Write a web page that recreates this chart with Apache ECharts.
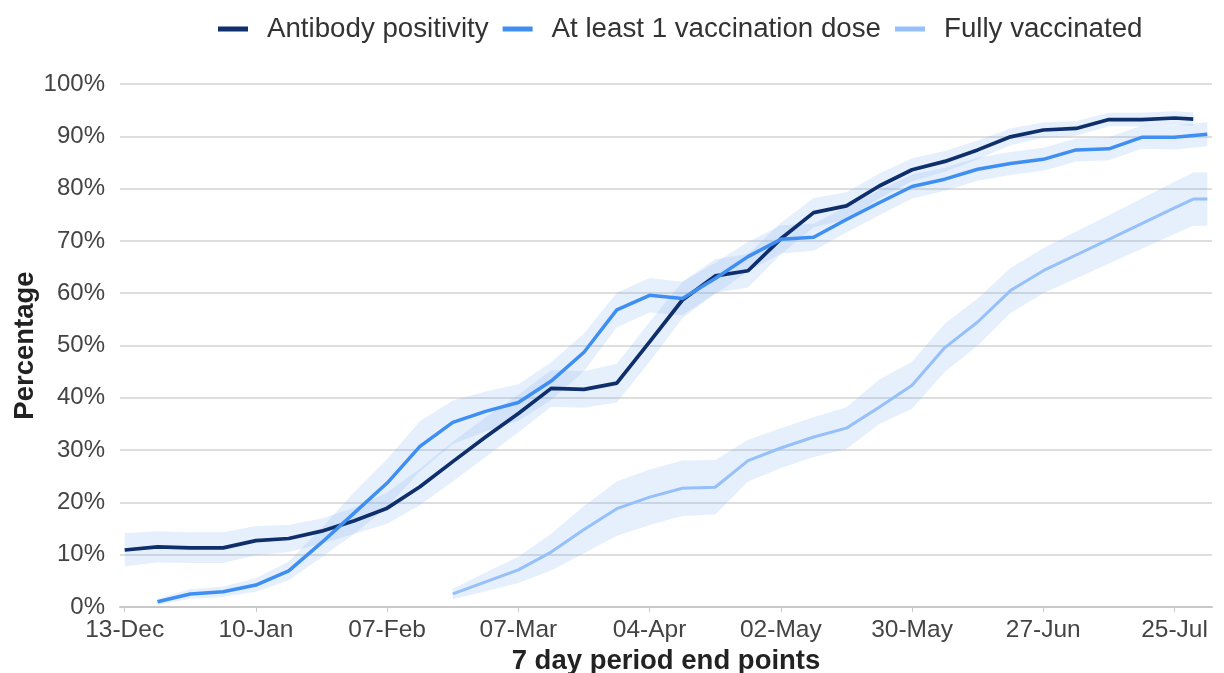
<!DOCTYPE html>
<html>
<head>
<meta charset="utf-8">
<title>Antibody positivity and vaccination</title>
<script src="https://cdn.jsdelivr.net/npm/echarts@6/dist/echarts.min.js"></script>
<style>
  html, body { margin: 0; padding: 0; background: #fff; }
  #chart { width: 1224px; height: 673px; }
</style>
</head>
<body>
<div id="chart"></div>
<script>
// x values are days after 13-Dec (7 day period end points)
var tickLabels = ['13-Dec', '10-Jan', '07-Feb', '07-Mar', '04-Apr', '02-May', '30-May', '27-Jun', '25-Jul'];
var tickDays = [0, 28, 56, 84, 112, 140, 168, 196, 224];

// Antibody positivity
var antibodyDays = [0, 7, 14, 21, 28, 35, 42, 49, 56, 63, 70, 77, 84, 91, 98, 105, 112, 119, 126, 133, 140, 147, 154, 161, 168, 175, 182, 189, 196, 203, 210, 217, 224, 228];
var antibodyVal = [10.9, 11.5, 11.3, 11.3, 12.7, 13.1, 14.5, 16.5, 18.9, 23.0, 27.8, 32.5, 37.0, 41.8, 41.6, 42.8, 50.7, 58.7, 63.3, 64.3, 70.4, 75.4, 76.7, 80.5, 83.6, 85.2, 87.4, 89.9, 91.2, 91.5, 93.2, 93.2, 93.5, 93.3];
var antibodyLow = [7.8, 8.5, 8.4, 8.4, 9.9, 10.5, 12.1, 14.0, 15.9, 19.5, 24.0, 28.7, 33.4, 38.3, 38.1, 39.1, 46.9, 55.2, 60.1, 61.1, 67.4, 72.6, 74.1, 78.1, 81.4, 83.2, 85.6, 88.3, 89.7, 90.1, 91.9, 91.9, 92.2, 92.0];
var antibodyHigh = [14.1, 14.5, 14.3, 14.3, 15.5, 15.7, 16.9, 19.0, 21.9, 26.5, 31.6, 36.3, 40.6, 45.3, 45.1, 46.5, 54.5, 62.2, 66.5, 67.5, 73.4, 78.2, 79.3, 82.9, 85.8, 87.2, 89.2, 91.5, 92.7, 92.9, 94.5, 94.5, 94.8, 94.6];

// At least 1 vaccination dose
var doseDays = [7, 14, 21, 28, 35, 42, 49, 56, 63, 70, 77, 84, 91, 98, 105, 112, 119, 126, 133, 140, 147, 154, 161, 168, 175, 182, 189, 196, 203, 210, 217, 224, 231];
var doseVal = [1.0, 2.5, 2.9, 4.2, 6.9, 12.3, 18.0, 23.7, 30.7, 35.3, 37.4, 39.1, 43.2, 48.7, 56.8, 59.6, 59.0, 62.8, 67.0, 70.3, 70.7, 74.1, 77.3, 80.4, 81.8, 83.7, 84.8, 85.6, 87.4, 87.6, 89.8, 89.8, 90.4];
var doseLow = [0.4, 1.6, 1.9, 2.9, 5.1, 9.5, 14.0, 19.1, 25.9, 31.1, 33.6, 35.6, 39.6, 45.1, 53.5, 56.3, 55.8, 59.8, 64.2, 67.6, 68.1, 71.6, 74.9, 78.1, 79.6, 81.5, 82.6, 83.4, 85.2, 85.4, 87.6, 87.5, 88.1];
var doseHigh = [1.6, 3.4, 3.9, 5.5, 8.7, 15.1, 22.0, 28.3, 35.5, 39.5, 41.2, 42.6, 46.8, 52.3, 60.1, 62.9, 62.2, 65.8, 69.8, 73.0, 73.3, 76.6, 79.7, 82.7, 84.0, 85.9, 87.0, 87.8, 89.6, 89.8, 92.0, 92.1, 92.7];

// Fully vaccinated
var fullDays = [70, 77, 84, 91, 98, 105, 112, 119, 126, 133, 140, 147, 154, 161, 168, 175, 182, 189, 196, 203, 210, 217, 224, 228, 231];
var fullVal = [2.5, 4.8, 7.1, 10.5, 14.8, 18.8, 21.0, 22.7, 22.9, 28.0, 30.4, 32.5, 34.2, 38.2, 42.4, 49.6, 54.5, 60.5, 64.3, 67.3, 70.3, 73.3, 76.3, 78.0, 78.0];
var fullLow = [1.5, 3.0, 4.6, 7.0, 10.3, 13.6, 15.7, 17.4, 17.7, 24.0, 26.6, 28.7, 30.2, 35.0, 37.9, 45.0, 50.0, 56.2, 60.0, 62.8, 65.7, 68.5, 71.3, 72.9, 72.9];
var fullHigh = [3.5, 6.6, 9.6, 14.0, 19.3, 24.0, 26.3, 28.0, 28.1, 32.0, 34.2, 36.3, 38.2, 43.5, 46.9, 54.2, 59.0, 64.8, 68.6, 71.8, 74.9, 78.1, 81.3, 83.1, 83.1];

var bandColor = 'rgba(120, 170, 240, 0.19)';

function pairs(days, vals) {
  return days.map(function (d, i) { return [d, vals[i]]; });
}

// confidence band drawn as one polygon through the axis scales
function band(key, days, low, high) {
  return {
    name: key + '-band',
    type: 'custom',
    silent: true,
    z: 1,
    data: days.map(function (d, i) { return [d, low[i], high[i]]; }),
    encode: { x: 0, y: [1, 2] },
    renderItem: function (params, api) {
      if (params.dataIndex !== 0) return null;
      var pts = [];
      for (var i = 0; i < days.length; i++) pts.push(api.coord([days[i], high[i]]));
      for (var j = days.length - 1; j >= 0; j--) pts.push(api.coord([days[j], low[j]]));
      return {
        type: 'polygon',
        shape: { points: pts },
        style: { fill: bandColor, stroke: null }
      };
    }
  };
}

function line(name, days, vals, color, width) {
  return {
    name: name,
    type: 'line',
    symbol: 'none',
    lineStyle: { color: color, width: width },
    itemStyle: { color: color },
    data: pairs(days, vals),
    z: 3
  };
}

var chart = echarts.init(document.getElementById('chart'));

var series = [
  band('ab', antibodyDays, antibodyLow, antibodyHigh),
  band('dose', doseDays, doseLow, doseHigh),
  band('full', fullDays, fullLow, fullHigh),
  line('Antibody positivity', antibodyDays, antibodyVal, '#0e2f6b', 3.7),
  line('At least 1 vaccination dose', doseDays, doseVal, '#3f8ff2', 3.5),
  line('Fully vaccinated', fullDays, fullVal, '#96c0fa', 3)
];

chart.setOption({
  animation: false,
  textStyle: { fontFamily: '"Liberation Sans", Arial, sans-serif' },
  legend: {
    data: ['Antibody positivity', 'At least 1 vaccination dose', 'Fully vaccinated'],
    left: 213,
    top: 10,
    icon: 'rect',
    itemWidth: 30,
    itemHeight: 5,
    itemGap: 14,
    textStyle: { fontSize: 27.7, color: '#333333', padding: [0, 0, 0, 14] }
  },
  grid: { left: 120, right: 12, top: 84, bottom: 66, outerBoundsMode: 'none' },
  xAxis: {
    type: 'value',
    min: -1,
    max: 232,
    name: '7 day period end points',
    nameLocation: 'middle',
    nameGap: 40,
    nameMoveOverlap: false,
    nameTextStyle: { fontSize: 27.5, fontWeight: 'bold', color: '#222222' },
    splitLine: { show: false },
    axisLine: { lineStyle: { color: '#c8c8c8', width: 2 } },
    axisTick: { show: true, customValues: tickDays, length: 5, lineStyle: { color: '#c8c8c8' } },
    axisLabel: {
      customValues: tickDays,
      fontSize: 24.5,
      color: '#444444',
      margin: 11,
      formatter: function (v) { return tickLabels[tickDays.indexOf(v)] || ''; }
    }
  },
  yAxis: {
    type: 'value',
    min: 0,
    max: 100,
    interval: 10,
    name: 'Percentage',
    nameLocation: 'middle',
    nameGap: 81,
    nameMoveOverlap: false,
    nameTextStyle: { fontSize: 27.5, fontWeight: 'bold', color: '#222222' },
    axisLine: { show: false },
    axisTick: { show: false },
    splitLine: { lineStyle: { color: '#dedede', width: 2 } },
    axisLabel: { formatter: '{value}%', fontSize: 24, color: '#444444', margin: 15 }
  },
  series: series
});
</script>
</body>
</html>
